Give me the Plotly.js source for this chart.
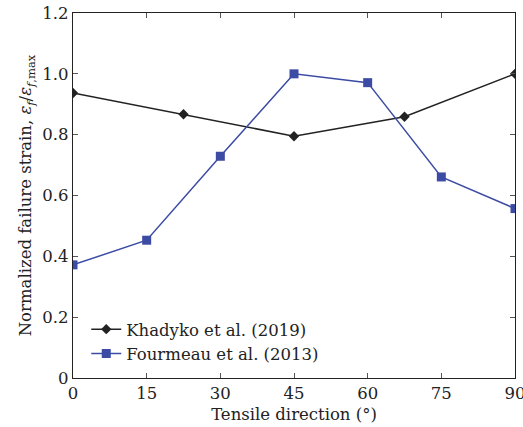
<!DOCTYPE html>
<html><head><meta charset="utf-8">
<script src="https://cdn.plot.ly/plotly-3.0.1.min.js"></script>
<style>html,body{margin:0;padding:0;background:#fff}#c{width:523px;height:427px}</style>
</head><body><div id="c"></div>
<script>
const khadykoX = [0, 22.5, 45, 67.5, 90];
const khadykoY = [0.937, 0.867, 0.795, 0.859, 1.0];
const fourmeauX = [0, 15, 30, 45, 60, 75, 90];
const fourmeauY = [0.372, 0.453, 0.729, 1.0, 0.971, 0.661, 0.557];
const xTicks = [0, 15, 30, 45, 60, 75, 90];
const yTicks = [0, 0.2, 0.4, 0.6, 0.8, 1.0, 1.2];
const yTickText = ['0', '0.2', '0.4', '0.6', '0.8', '1.0', '1.2'];

const font = {family: 'DejaVu Serif, Liberation Serif, serif', size: 16.5, color: '#222'};
const traces = [
  {x: khadykoX, y: khadykoY, mode: 'lines+markers', name: 'Khadyko et al. (2019)',
   line: {color: '#222', width: 1.5}, marker: {symbol: 'diamond', size: 8, color: '#222'}},
  {x: fourmeauX, y: fourmeauY, mode: 'lines+markers', name: 'Fourmeau et al. (2013)',
   line: {color: '#3c4ba3', width: 1.5}, marker: {symbol: 'square', size: 9, color: '#3c4ba3'}}
];
const axisCommon = {showgrid: false, zeroline: false, showline: true, linecolor: '#222', linewidth: 1.2,
  mirror: 'ticks', ticks: 'inside', ticklen: 5, tickcolor: '#555', tickfont: font};
const layout = {
  width: 523, height: 427, margin: {l: 73, r: 8, t: 13, b: 49},
  paper_bgcolor: '#fff', plot_bgcolor: '#fff', font: font, showlegend: true,
  xaxis: Object.assign({}, axisCommon, {range: [0, 90], tickvals: xTicks, ticktext: xTicks.map(String),
    ticklabeloverflow: 'allow',
    title: {text: 'Tensile direction (°)', font: font, standoff: 6}}),
  yaxis: Object.assign({}, axisCommon, {range: [0, 1.2], tickvals: yTicks, ticktext: yTickText,
    ticklabeloverflow: 'allow',
    title: {text: 'Normalized failure strain, <i>ε</i><sub><i>f</i></sub>/<i>ε</i><sub><i>f</i>,max</sub>', font: font, standoff: 6}}),
  legend: {x: 0.03, y: 0.181, xanchor: 'left', yanchor: 'top', bgcolor: 'rgba(0,0,0,0)', borderwidth: 0,
    font: font, tracegroupgap: 0, itemwidth: 30}
};
Plotly.newPlot('c', traces, layout, {displayModeBar: false, staticPlot: true});
</script></body></html>
